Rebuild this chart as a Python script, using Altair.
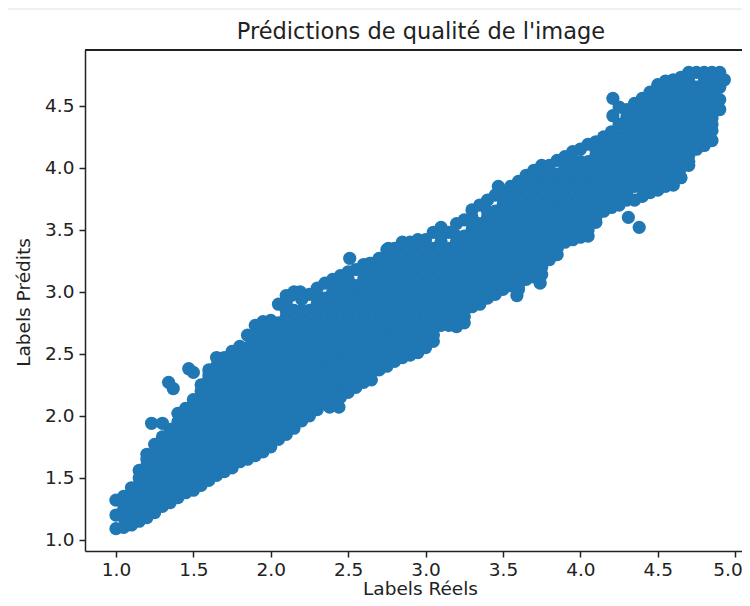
import altair as alt
import pandas as pd

x_ticks = [1.0, 1.5, 2.0, 2.5, 3.0, 3.5, 4.0, 4.5, 5.0]
y_ticks = [1.0, 1.5, 2.0, 2.5, 3.0, 3.5, 4.0, 4.5]
title_text = ["Prédictions de qualité de l'image"]

# values, one list per position on the x axis
columns = {
1.00: [1.09,1.20,1.32],
1.05: [1.10,1.25,1.35],
1.10: [1.12,1.20,1.30,1.42],
1.15: [1.15,1.25,1.35,1.45,1.56],
1.20: [1.18,1.30,1.40,1.50,1.60,1.69],
1.25: [1.22,1.35,1.45,1.55,1.65,1.77],
1.30: [1.27,1.40,1.50,1.60,1.70,1.83],
1.35: [1.30,1.45,1.55,1.65,1.75,1.89],
1.40: [1.34,1.40,1.50,1.60,1.70,1.80,1.90,2.02],
1.45: [1.38,1.45,1.55,1.65,1.75,1.85,1.95,2.06],
1.50: [1.40,1.50,1.60,1.70,1.80,1.90,2.00,2.13],
1.55: [1.44,1.55,1.65,1.75,1.85,1.95,2.05,2.15,2.25],
1.60: [1.48,1.60,1.70,1.80,1.90,2.00,2.10,2.20,2.30,2.37],
1.65: [1.52,1.65,1.75,1.85,1.95,2.05,2.15,2.25,2.35,2.47],
1.70: [1.55,1.60,1.70,1.80,1.90,2.00,2.10,2.20,2.30,2.40,2.47],
1.75: [1.58,1.65,1.75,1.85,1.95,2.05,2.15,2.25,2.35,2.45,2.52],
1.80: [1.63,1.70,1.80,1.90,2.00,2.10,2.20,2.30,2.40,2.50,2.56],
1.85: [1.65,1.75,1.85,1.95,2.05,2.15,2.25,2.35,2.45,2.55,2.65],
1.90: [1.68,1.80,1.90,2.00,2.10,2.20,2.30,2.40,2.50,2.60,2.73],
1.95: [1.71,1.85,1.95,2.05,2.15,2.25,2.35,2.45,2.55,2.65,2.76],
2.00: [1.75,1.80,1.90,2.00,2.10,2.20,2.30,2.40,2.50,2.60,2.70,2.77],
2.05: [1.81,1.85,1.95,2.05,2.15,2.25,2.35,2.45,2.55,2.65,2.75,2.90],
2.10: [1.85,1.90,2.00,2.10,2.20,2.30,2.40,2.50,2.60,2.70,2.80,2.97],
2.15: [1.90,1.95,2.05,2.15,2.25,2.35,2.45,2.55,2.65,2.75,2.85,3.00],
2.20: [1.96,2.00,2.10,2.20,2.30,2.40,2.50,2.60,2.70,2.80,2.94],
2.25: [2.00,2.05,2.15,2.25,2.35,2.45,2.55,2.65,2.75,2.85,2.98],
2.30: [2.05,2.10,2.20,2.30,2.40,2.50,2.60,2.70,2.80,2.90,3.03],
2.35: [2.10,2.15,2.25,2.35,2.45,2.55,2.65,2.75,2.85,2.95,3.07],
2.40: [2.12,2.20,2.30,2.40,2.50,2.60,2.70,2.80,2.90,3.00,3.10],
2.45: [2.15,2.25,2.35,2.45,2.55,2.65,2.75,2.85,2.95,3.05,3.13],
2.50: [2.19,2.30,2.40,2.50,2.60,2.70,2.80,2.90,3.00,3.10,3.16],
2.55: [2.23,2.35,2.45,2.55,2.65,2.75,2.85,2.95,3.05,3.18],
2.60: [2.27,2.40,2.50,2.60,2.70,2.80,2.90,3.00,3.10,3.22],
2.65: [2.29,2.35,2.45,2.55,2.65,2.75,2.85,2.95,3.05,3.15,3.23],
2.70: [2.37,2.40,2.50,2.60,2.70,2.80,2.90,3.00,3.10,3.20,3.27],
2.75: [2.40,2.45,2.55,2.65,2.75,2.85,2.95,3.05,3.15,3.25,3.34],
2.80: [2.44,2.50,2.60,2.70,2.80,2.90,3.00,3.10,3.20,3.30],
2.85: [2.47,2.55,2.65,2.75,2.85,2.95,3.05,3.15,3.25,3.35,3.40],
2.90: [2.49,2.60,2.70,2.80,2.90,3.00,3.10,3.20,3.30,3.40],
2.95: [2.51,2.55,2.65,2.75,2.85,2.95,3.05,3.15,3.25,3.35,3.42],
3.00: [2.55,2.60,2.70,2.80,2.90,3.00,3.10,3.20,3.30,3.42],
3.05: [2.60,2.65,2.75,2.85,2.95,3.05,3.15,3.25,3.35,3.48],
3.10: [2.73,2.80,2.90,3.00,3.10,3.20,3.30,3.40,3.52],
3.15: [2.73,2.85,2.95,3.05,3.15,3.25,3.35,3.48],
3.20: [2.72,2.80,2.90,3.00,3.10,3.20,3.30,3.40,3.55],
3.25: [2.75,2.85,2.95,3.05,3.15,3.25,3.35,3.45,3.58],
3.30: [2.88,2.90,3.00,3.10,3.20,3.30,3.40,3.50,3.60,3.66],
3.35: [2.90,2.95,3.05,3.15,3.25,3.35,3.45,3.55,3.70],
3.40: [2.95,3.00,3.10,3.20,3.30,3.40,3.50,3.60,3.74],
3.45: [2.98,3.05,3.15,3.25,3.35,3.45,3.55,3.65,3.78],
3.50: [3.02,3.10,3.20,3.30,3.40,3.50,3.60,3.70,3.81],
3.55: [3.05,3.15,3.25,3.35,3.45,3.55,3.65,3.75,3.85],
3.60: [3.02,3.10,3.20,3.30,3.40,3.50,3.60,3.70,3.80,3.89],
3.65: [3.10,3.15,3.25,3.35,3.45,3.55,3.65,3.75,3.85,3.94],
3.70: [3.12,3.20,3.30,3.40,3.50,3.60,3.70,3.80,3.90,3.98],
3.75: [3.14,3.25,3.35,3.45,3.55,3.65,3.75,3.85,3.95,4.02],
3.80: [3.26,3.30,3.40,3.50,3.60,3.70,3.80,3.90,4.02],
3.85: [3.30,3.35,3.45,3.55,3.65,3.75,3.85,3.95,4.06],
3.90: [3.40,3.50,3.60,3.70,3.80,3.90,4.00,4.09],
3.95: [3.42,3.55,3.65,3.75,3.85,3.95,4.05,4.13],
4.00: [3.44,3.50,3.60,3.70,3.80,3.90,4.00,4.15],
4.05: [3.45,3.55,3.65,3.75,3.85,3.95,4.05,4.19],
4.10: [3.56,3.60,3.70,3.80,3.90,4.00,4.10,4.21],
4.15: [3.65,3.75,3.85,3.95,4.05,4.15,4.25],
4.20: [3.68,3.80,3.90,4.00,4.10,4.20,4.29],
4.25: [3.70,3.75,3.85,3.95,4.05,4.15,4.25,4.35],
4.30: [3.74,3.80,3.90,4.00,4.10,4.20,4.30,4.40,4.47],
4.35: [3.74,3.85,3.95,4.05,4.15,4.25,4.35,4.45,4.52],
4.40: [3.77,3.90,4.00,4.10,4.20,4.30,4.40,4.50,4.56],
4.45: [3.80,3.85,3.95,4.05,4.15,4.25,4.35,4.45,4.55,4.61],
4.50: [3.82,3.90,4.00,4.10,4.20,4.30,4.40,4.50,4.60,4.67],
4.55: [3.85,3.95,4.05,4.15,4.25,4.35,4.45,4.55,4.65,4.70],
4.60: [3.86,4.00,4.10,4.20,4.30,4.40,4.50,4.60,4.71],
4.65: [3.92,4.05,4.15,4.25,4.35,4.45,4.55,4.65,4.73],
4.70: [4.02,4.10,4.20,4.30,4.40,4.50,4.60,4.70,4.77],
4.75: [4.15,4.25,4.35,4.45,4.55,4.65,4.77],
4.80: [4.18,4.30,4.40,4.50,4.60,4.70,4.77],
4.85: [4.22,4.35,4.45,4.55,4.65,4.77],
4.90: [4.47,4.55,4.65,4.77],
4.93: [4.71],
}

columns_dense = {
1.10: [1.25,1.35],
1.20: [1.25,1.35,1.45,1.55,1.65],
1.30: [1.35,1.45,1.55,1.65,1.75],
1.40: [1.45,1.55,1.65,1.75,1.85,1.95],
1.50: [1.45,1.55,1.65,1.75,1.85,1.95,2.05],
1.60: [1.55,1.65,1.75,1.85,1.95,2.05,2.15,2.25,2.33],
1.70: [1.65,1.75,1.85,1.95,2.05,2.15,2.25,2.35,2.43],
1.80: [1.75,1.85,1.95,2.05,2.15,2.25,2.35,2.45],
1.90: [1.75,1.85,1.95,2.05,2.15,2.25,2.35,2.45,2.55,2.65],
2.00: [1.85,1.95,2.05,2.15,2.25,2.35,2.45,2.55,2.65,2.75],
2.10: [1.95,2.05,2.15,2.25,2.35,2.45,2.55,2.65,2.75,2.85,2.90],
2.20: [2.05,2.15,2.25,2.35,2.45,2.55,2.65,2.75,2.85],
2.30: [2.15,2.25,2.35,2.45,2.55,2.65,2.75,2.85,2.95],
2.40: [2.25,2.35,2.45,2.55,2.65,2.75,2.85,2.95,3.05],
2.50: [2.25,2.35,2.45,2.55,2.65,2.75,2.85,2.95,3.05,3.15],
2.60: [2.35,2.45,2.55,2.65,2.75,2.85,2.95,3.05,3.15],
2.70: [2.45,2.55,2.65,2.75,2.85,2.95,3.05,3.15,3.25],
2.80: [2.55,2.65,2.75,2.85,2.95,3.05,3.15,3.25,3.35],
2.90: [2.55,2.65,2.75,2.85,2.95,3.05,3.15,3.25,3.35],
3.00: [2.65,2.75,2.85,2.95,3.05,3.15,3.25,3.35],
3.10: [2.85,2.95,3.05,3.15,3.25,3.35,3.45],
3.20: [2.75,2.85,2.95,3.05,3.15,3.25,3.35,3.45],
3.30: [2.95,3.05,3.15,3.25,3.35,3.45,3.55],
3.40: [3.05,3.15,3.25,3.35,3.45,3.55,3.65],
3.50: [3.05,3.15,3.25,3.35,3.45,3.55,3.65,3.75],
3.60: [3.05,3.15,3.25,3.35,3.45,3.55,3.65,3.75,3.85],
3.70: [3.15,3.25,3.35,3.45,3.55,3.65,3.75,3.85,3.95],
3.80: [3.35,3.45,3.55,3.65,3.75,3.85,3.95],
3.90: [3.45,3.55,3.65,3.75,3.85,3.95,4.05],
4.00: [3.55,3.65,3.75,3.85,3.95,4.05],
4.10: [3.65,3.75,3.85,3.95,4.05,4.15],
4.20: [3.75,3.85,3.95,4.05,4.15,4.25],
4.30: [3.85,3.95,4.05,4.15,4.25,4.35,4.45],
4.40: [3.85,3.95,4.05,4.15,4.25,4.35,4.45,4.55],
4.50: [3.95,4.05,4.15,4.25,4.35,4.45,4.55,4.65],
4.60: [3.95,4.05,4.15,4.25,4.35,4.45,4.55,4.65],
4.70: [4.05,4.15,4.25,4.35,4.45,4.55,4.65,4.75],
4.80: [4.25,4.35,4.45,4.55,4.65,4.75],
}

columns_fill = {
1.05: [1.18,1.30],
1.10: [1.16],
1.15: [1.20,1.30,1.40,1.50],
1.20: [1.24],
1.25: [1.28,1.40,1.50,1.60,1.70],
1.30: [1.32],
1.35: [1.38,1.50,1.60,1.70,1.80],
1.45: [1.50,1.60,1.70,1.80,1.90,2.00],
1.55: [1.50,1.60,1.70,1.80,1.90,2.00,2.10,2.20],
1.65: [1.58,1.70,1.80,1.90,2.00,2.10,2.20,2.30,2.40],
1.75: [1.70,1.80,1.90,2.00,2.10,2.20,2.30,2.40],
1.85: [1.70,1.80,1.90,2.00,2.10,2.20,2.30],
1.95: [1.78,1.90,2.00,2.10,2.20,2.30],
2.05: [1.90,2.00,2.10,2.20],
2.15: [1.98,2.10,2.20],
2.25: [2.10,2.20,2.30],
2.35: [2.20,2.30],
2.45: [2.30,2.40],
2.55: [2.30,2.40,2.50],
2.65: [2.40,2.50],
2.75: [2.50,2.60],
2.85: [2.60,2.70],
2.95: [2.60,2.70],
3.05: [2.70,2.80],
3.15: [2.80,2.90],
3.25: [2.80,2.90],
3.35: [2.98,3.10],
3.45: [3.10,3.20],
3.55: [3.10,3.20,3.30],
3.65: [3.20,3.30],
3.75: [3.20,3.30,3.40],
3.85: [3.40,3.50,3.60],
3.95: [3.50,3.60,3.70],
4.05: [3.50,3.60,3.70],
4.15: [3.70,3.80,3.90],
4.25: [3.80,3.90,4.00],
4.35: [3.90,4.00,4.10],
4.45: [3.90,4.00,4.10],
4.55: [3.90,4.00,4.10],
4.65: [4.00,4.10],
4.75: [4.20,4.30,4.40],
4.85: [4.30,4.40,4.50,4.60,4.70],
}

outlier_x = [1.23, 1.30, 1.34, 1.37, 1.47, 1.50, 2.38, 2.51, 2.64, 2.76, 3.47,
             3.59, 3.74, 4.31, 4.38, 4.21, 4.25, 4.21, 2.44, 1.95, 2.00, 2.13, 2.19]
outlier_y = [1.94, 1.94, 2.27, 2.22, 2.38, 2.35, 2.07, 3.27, 3.23, 3.35, 3.85,
             2.97, 3.07, 3.60, 3.52, 4.56, 4.49, 4.42, 2.07, 2.75, 2.75, 2.97, 3.00]

rows = [{"x": x, "y": y} for x, ys in columns.items() for y in ys]
rows += [{"x": x, "y": y} for x, ys in columns_dense.items() for y in ys]
rows += [{"x": x, "y": y} for x, ys in columns_fill.items() for y in ys]
rows += [{"x": x, "y": y} for x, y in zip(outlier_x, outlier_y)]
df = pd.DataFrame(rows)

FONT = "DejaVu Sans"
W, H = 657, 501

points = alt.Chart(df).mark_circle(size=175, color="#1f77b4", opacity=1).encode(
    x=alt.X("x:Q", scale=alt.Scale(domain=[0.8, 5.044], nice=False, zero=False),
            axis=alt.Axis(values=x_ticks, format=".1f", title="Labels Réels", grid=False,
                          titlePadding=0.5, titleX=335, labelPadding=3,
                          labelAlign=alt.expr("datum.value == 5 ? 'right' : 'center'"),
                          labelOffset=alt.expr("datum.value == 5 ? 7 : 0"))),
    y=alt.Y("y:Q", scale=alt.Scale(domain=[0.91, 4.95], nice=False, zero=False),
            axis=alt.Axis(values=y_ticks, format=".1f", title="Labels Prédits", grid=False,
                          titlePadding=11, titleY=252)),
)

top_spine = alt.Chart(df).mark_rule(color="#222222", strokeWidth=1.5).encode(
    x=alt.value(0), x2=alt.value(W), y=alt.value(0))

page_line = alt.Chart(df).mark_rule(color="#f0f0f0", strokeWidth=1, clip=False).encode(
    x=alt.value(-77), x2=alt.value(W), y=alt.value(-41))

title = alt.Chart(pd.DataFrame({"t": title_text})).mark_text(
    font=FONT, fontSize=22.5, color="#222222", align="center", baseline="middle"
).encode(text="t:N", x=alt.value(336), y=alt.value(-18))

chart = alt.layer(page_line, points, top_spine, title).properties(
    width=W, height=H,
    autosize="none",
    padding={"left": 77, "top": 42, "right": 0, "bottom": 47},
).configure_view(stroke=None).configure_axis(
    domainColor="#222222", domainWidth=1.5, tickColor="#222222", tickWidth=1.5, tickSize=6,
    labelFont=FONT, labelFontSize=18.5, labelColor="#222222", labelPadding=5, labelOverlap=False,
    titleFont=FONT, titleFontSize=18.5, titleFontWeight="normal", titleColor="#222222",
)

chart.save("out.html", embed_options={"renderer": "svg", "actions": False})
